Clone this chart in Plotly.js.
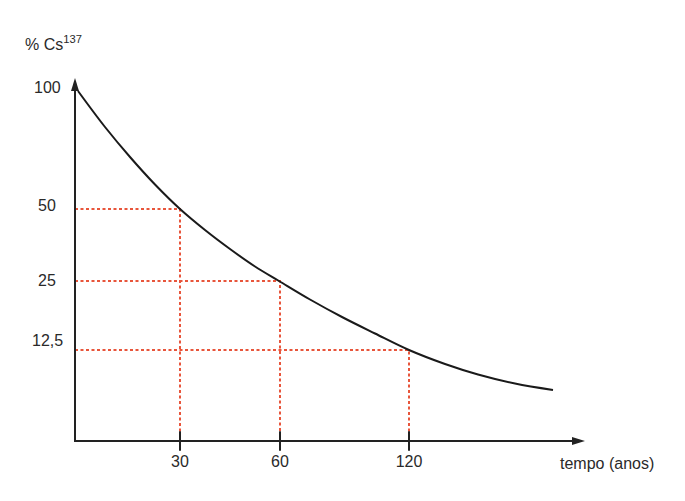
<!DOCTYPE html>
<html>
<head>
<meta charset="utf-8">
<script src="https://cdn.plot.ly/plotly-3.0.1.min.js"></script>
<style>html,body{margin:0;padding:0;background:#fff;}#chart{width:685px;height:501px;}</style>
</head>
<body>
<div id="chart"></div>
<script>
// Schematic diagram (axes are not to scale): values are in diagram units
const curveX = [3, 30, 55, 80, 105, 130, 155, 180, 204, 235, 267, 300, 334, 370, 403, 440, 478];
const curveY = [350, 314, 284, 256.5, 232, 211, 192, 174.5, 160, 141.5, 124, 107.5, 91, 77, 66.5, 57.5, 51];

// half-life guide points (30 anos -> 50 %, 60 -> 25 %, 120 -> 12,5 %)
const guideX = [105, 205, 334];
const guideY = [232, 160, 91];

// axis ticks
const xTickPos = [105, 205, 334];
const xTickText = ['30', '60', '120'];
const yTickPos = [353.5, 235.5, 161, 100.5];
const yTickText = ['100', '50', '25', '12,5'];

const xTitle = 'tempo (anos)';
const yTitle = '% Cs<sup>137</sup>';

const W = 510, H = 363;              // plot area size (px)
const axisColor = '#222222';
const guideColor = '#e8553b';
const font = {family: 'Liberation Sans, Arial, sans-serif', size: 16, color: '#2a2a2a'};

const traces = [];
for (let i = 0; i < guideX.length; i++) {
  traces.push({
    type: 'scatter', mode: 'lines',
    x: [0, guideX[i], guideX[i]],
    y: [guideY[i], guideY[i], 0],
    line: {color: guideColor, width: 2, dash: '3px,2.5px'},
    hoverinfo: 'skip', showlegend: false
  });
}
traces.push({
  type: 'scatter', mode: 'lines',
  x: curveX, y: curveY,
  line: {color: '#1a1a1a', width: 2, shape: 'spline', smoothing: 1},
  hoverinfo: 'skip', showlegend: false
});
traces.push({
  type: 'scatter', mode: 'markers',
  x: xTickPos, y: xTickPos.map(() => 0),
  marker: {symbol: 'line-ns', size: 14, line: {width: 2, color: axisColor}},
  cliponaxis: false, hoverinfo: 'skip', showlegend: false
});

const px = v => v / W, py = v => v / H;
const annotations = yTickText.map((t, i) => ({
  x: px(-28), y: py(yTickPos[i]), xref: 'paper', yref: 'paper',
  text: t, showarrow: false, xanchor: 'center', yanchor: 'middle', font: font
}));
annotations.push({
  x: px(532), y: py(-22), xref: 'paper', yref: 'paper', text: xTitle, showarrow: false,
  xanchor: 'center', yanchor: 'middle', font: font
});
annotations.push({
  x: px(-52), y: py(398), xref: 'paper', yref: 'paper', text: yTitle, showarrow: false,
  xanchor: 'left', yanchor: 'middle', font: font
});

const headLen = 13, headHalf = 4;
const shapes = [
  {type: 'line', xref: 'paper', yref: 'paper', x0: 0, y0: 0, x1: 1 - (headLen - 2) / W, y1: 0,
   line: {color: axisColor, width: 2}},
  {type: 'line', xref: 'paper', yref: 'paper', x0: 0, y0: -1 / H, x1: 0, y1: 1 - (headLen - 2) / H,
   line: {color: axisColor, width: 2}},
  {type: 'path', xref: 'paper', yref: 'paper',
   path: `M 1,0 L ${1 - headLen / W},${headHalf / H} L ${1 - headLen / W},${-headHalf / H} Z`,
   fillcolor: axisColor, line: {width: 0}},
  {type: 'path', xref: 'paper', yref: 'paper',
   path: `M 0,1 L ${-headHalf / W},${1 - headLen / H} L ${headHalf / W},${1 - headLen / H} Z`,
   fillcolor: axisColor, line: {width: 0}}
];

const layout = {
  width: 685, height: 501,
  margin: {l: 75, r: 100, t: 78, b: 60},
  paper_bgcolor: '#ffffff', plot_bgcolor: '#ffffff',
  showlegend: false, hovermode: false,
  font: font,
  xaxis: {
    range: [0, W], showgrid: false, zeroline: false, showline: false,
    tickmode: 'array', tickvals: xTickPos, ticktext: xTickText,
    ticks: 'outside', ticklen: 6, tickcolor: 'rgba(0,0,0,0)',
    tickfont: font, fixedrange: true
  },
  yaxis: {
    range: [0, H], showgrid: false, zeroline: false, showline: false,
    showticklabels: false, ticks: '', fixedrange: true
  },
  annotations: annotations,
  shapes: shapes
};

Plotly.newPlot('chart', traces, layout, {displayModeBar: false, staticPlot: true});
</script>
</body>
</html>
